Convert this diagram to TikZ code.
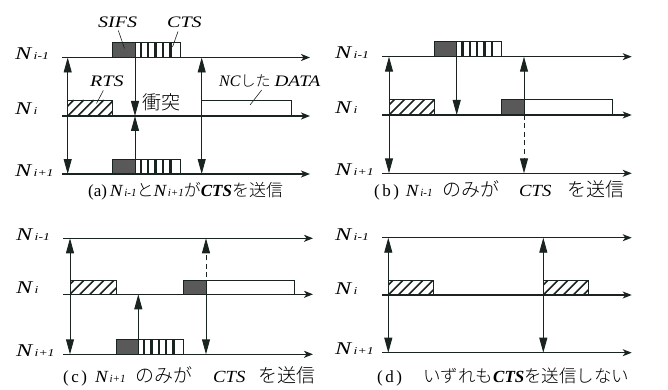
\documentclass[tikz,border=0pt]{standalone}
\usepackage{fontspec}
\setmainfont{Liberation Serif}
\newfontfamily\jp{Noto Sans CJK JP Light}
\usetikzlibrary{arrows.meta}

\definecolor{ink}{HTML}{1A241E}
\definecolor{sifsgray}{HTML}{595959}

% node name with a small italic index, set wide
\newcommand\Nsub[1]{\scalebox{1.35}[1]{\textit{N}}\kern1.2pt\scalebox{1.3}[1]{\fontsize{10.5}{10.5}\selectfont\textit{#1}}}
% same, as used inside the captions
\newcommand\Ncap[1]{\scalebox{1.12}[1]{\textit{N}}\kern0.8pt{\fontsize{11}{11}\selectfont\textit{#1}}}
% wide italic label
\newcommand\wide[1]{\scalebox{1.25}[1]{#1}}

\tikzset{
  x=1pt, y=-1pt,
  axis/.style={draw=ink, line width=1.5pt, -{Stealth[length=9pt,width=7pt,inset=2.5pt]}},
  sig/.style={draw=ink, line width=0.9pt, -{Triangle[length=15pt,width=8pt]}},
  sigboth/.style={draw=ink, line width=0.9pt, {Triangle[length=15pt,width=8pt]}-{Triangle[length=15pt,width=8pt]}},
  sigdash/.style={sig, dash pattern=on 5pt off 3.5pt},
  framebox/.style={draw=ink, line width=0.8pt},
  hatch/.style={draw=ink, line width=1.6pt},
  leader/.style={draw=ink, line width=0.6pt},
  nlbl/.style={inner sep=0pt, anchor=base west, font=\fontsize{18}{18}\selectfont},
  lbl/.style={inner sep=0pt, anchor=base west, font=\fontsize{16}{16}\selectfont\itshape},
  captext/.style={inner sep=0pt, anchor=base west, font=\fontsize{17}{17}\selectfont},
}

% RTS frame: hatched box, corners (x1,y1) top left and (x2,y2) bottom right
\newcommand\rtsbox[4]{%
  \begin{scope}
    \clip (#1,#2) rectangle (#3,#4);
    \foreach \k in {-2,...,5} \draw[hatch] ({#1+\k*10},#4) -- ++(16,-16);
  \end{scope}
  \draw[framebox] (#1,#2) rectangle (#3,#4);}
% SIFS interval: dark box
\newcommand\sifsbox[4]{\draw[framebox, fill=sifsgray] (#1,#2) rectangle (#3,#4);}
% CTS frame: box with vertical bars
\newcommand\ctsbox[4]{%
  \draw[framebox, fill=white] (#1,#2) rectangle (#3,#4);
  \foreach \k in {0,...,4} \fill[ink] ({#1+4.5+\k*7.4},#2) rectangle ++(2.4,{#4-#2});}
% DATA frame: white box
\newcommand\databox[4]{\draw[framebox, fill=white] (#1,#2) rectangle (#3,#4);}
% caption pieces
\newcommand\cj[2][19]{{\fontsize{#1}{#1}\selectfont\jp #2}}
\newcommand\pl[1]{(\kern2.5pt#1\kern2.5pt)}

\begin{document}
\begin{tikzpicture}
\useasboundingbox (0,0) rectangle (668,390);

% ---------------- (a) ----------------
\node[nlbl] (a1) at (15,59.5) {\Nsub{i-1}};
\node[nlbl] (a2) at (15,115) {\Nsub{i}};
\node[nlbl] (a3) at (15,176) {\Nsub{i+1}};
\coordinate (a1s) at (62,57.5);  \coordinate (a1e) at (310,57.5);
\coordinate (a2s) at (62,116);   \coordinate (a2e) at (310,116);
\coordinate (a3s) at (62,174);   \coordinate (a3e) at (310,174);
\rtsbox{67.7}{100}{112.7}{116}
\sifsbox{112.7}{42.5}{135}{57.5}
\ctsbox{135}{42.5}{180.5}{57.5}
\sifsbox{112.7}{159}{135}{174}
\ctsbox{135}{159}{180.5}{174}
\databox{201.7}{100}{291.7}{116}
\draw[axis] (a1s) -- (a1e);
\draw[axis] (a2s) -- (a2e);
\draw[axis] (a3s) -- (a3e);
\draw[sigboth] (67.7,57.5) -- (67.7,174);
\draw[sig] (135,57.5) -- (135,116);
\draw[sig] (135,174) -- (135,116);
\draw[sigboth] (201.7,57.5) -- (201.7,174);
\node[lbl] (sifs) at (98,28) {\wide{SIFS}};
\node[lbl] (cts) at (167,28) {\wide{CTS}};
\node[lbl] (rts) at (90,87) {\wide{RTS}};
\node[lbl] (nc) at (219,86.5) {NC{\upshape\cj[15]{した}}\hspace{4pt}\scalebox{1.2}[1]{DATA}};
\node[inner sep=0pt, anchor=west, font=\fontsize{19}{19}\selectfont\jp] (col) at (142,102) {衝突};
\draw[leader] (118.3,30.5) -- (124.5,48.5);
\draw[leader] (178,31.5) -- (172.5,47);
\draw[leader] (103.3,90.5) -- (96.5,103.5);
\draw[leader] (261.7,90) -- (250,105);
\node[captext] (capa) at (88,196.5) {(a)\,\Ncap{i-1}\cj[17]{と}\Ncap{i+1}\cj[17]{が}\textbf{\textit{CTS}}\cj[17]{を送信}};

% ---------------- (b) ----------------
\node[nlbl] (b1) at (335,58.7) {\Nsub{i-1}};
\node[nlbl] (b2) at (335,114) {\Nsub{i}};
\node[nlbl] (b3) at (335,175.3) {\Nsub{i+1}};
\coordinate (b1s) at (382.3,56.7); \coordinate (b1e) at (631.7,56.7);
\coordinate (b2s) at (382.3,115);  \coordinate (b2e) at (631.7,115);
\coordinate (b3s) at (382.3,173.3);\coordinate (b3e) at (631.7,173.3);
\rtsbox{389}{99.3}{434}{115}
\sifsbox{434}{41.7}{456.7}{56.7}
\ctsbox{456.7}{41.7}{501.7}{56.7}
\sifsbox{501.5}{99.3}{524}{115}
\databox{524}{99.3}{612.3}{115}
\draw[axis] (b1s) -- (b1e);
\draw[axis] (b2s) -- (b2e);
\draw[axis] (b3s) -- (b3e);
\draw[sigboth] (389,56.7) -- (389,173.3);
\draw[sig] (456.7,56.7) -- (456.7,115);
\draw[sig] (524,115) -- (524,56.7);
\draw[sigdash] (524,115) -- (524,173.3);
\node[captext] (capb) at (374,196.5) {\makebox[31.7pt][l]{\pl{b}}\makebox[36.3pt][l]{\Ncap{i-1}}\makebox[77pt][l]{\cj{のみが}}\makebox[48pt][l]{\scalebox{1.1}[1]{\textit{CTS}}}\cj{を送信}};

% ---------------- (c) ----------------
\node[nlbl] (c1) at (16,240.7) {\Nsub{i-1}};
\node[nlbl] (c2) at (16,293.3) {\Nsub{i}};
\node[nlbl] (c3) at (16,356.3) {\Nsub{i+1}};
\coordinate (c1s) at (63.3,238.3); \coordinate (c1e) at (313,238.3);
\coordinate (c2s) at (63.3,294.3); \coordinate (c2e) at (313,294.3);
\coordinate (c3s) at (63.3,354.3); \coordinate (c3e) at (313,354.3);
\rtsbox{70}{280.3}{116}{294.3}
\sifsbox{116}{339}{138.3}{354.3}
\ctsbox{138.3}{339}{183.3}{354.3}
\sifsbox{183.3}{280.3}{206}{294.3}
\databox{206}{280.3}{294}{294.3}
\draw[axis] (c1s) -- (c1e);
\draw[axis] (c2s) -- (c2e);
\draw[axis] (c3s) -- (c3e);
\draw[sigboth] (70,238.3) -- (70,354.3);
\draw[sig] (138.3,354.3) -- (138.3,294.3);
\draw[sigdash] (206,294.3) -- (206,238.3);
\draw[sig] (206,294.3) -- (206,354.3);
\node[captext] (capc) at (63,382.5) {\makebox[32pt][l]{\pl{c}}\makebox[40pt][l]{\Ncap{i+1}}\makebox[78pt][l]{\cj{のみが}}\makebox[45pt][l]{\scalebox{1.1}[1]{\textit{CTS}}}\cj{を送信}};

% ---------------- (d) ----------------
\node[nlbl] (d1) at (335,240.1) {\Nsub{i-1}};
\node[nlbl] (d2) at (335,294) {\Nsub{i}};
\node[nlbl] (d3) at (335,354.7) {\Nsub{i+1}};
\coordinate (d1s) at (382.3,237.7); \coordinate (d1e) at (631.7,237.7);
\coordinate (d2s) at (382.3,295);   \coordinate (d2e) at (631.7,295);
\coordinate (d3s) at (382.3,352.7); \coordinate (d3e) at (631.7,352.7);
\rtsbox{388.3}{280.7}{433.3}{295}
\rtsbox{543.3}{280.7}{588.3}{295}
\draw[axis] (d1s) -- (d1e);
\draw[axis] (d2s) -- (d2e);
\draw[axis] (d3s) -- (d3e);
\draw[sigboth] (388.3,237.7) -- (388.3,352.7);
\draw[sigboth] (543.3,237.7) -- (543.3,352.7);
\node[captext] (capd) at (377,382.5) {\makebox[46pt][l]{\pl{d}}\cj[17.5]{いずれも}\textbf{\textit{CTS}}\cj[17.5]{を送信しない}};
\end{tikzpicture}
\end{document}
